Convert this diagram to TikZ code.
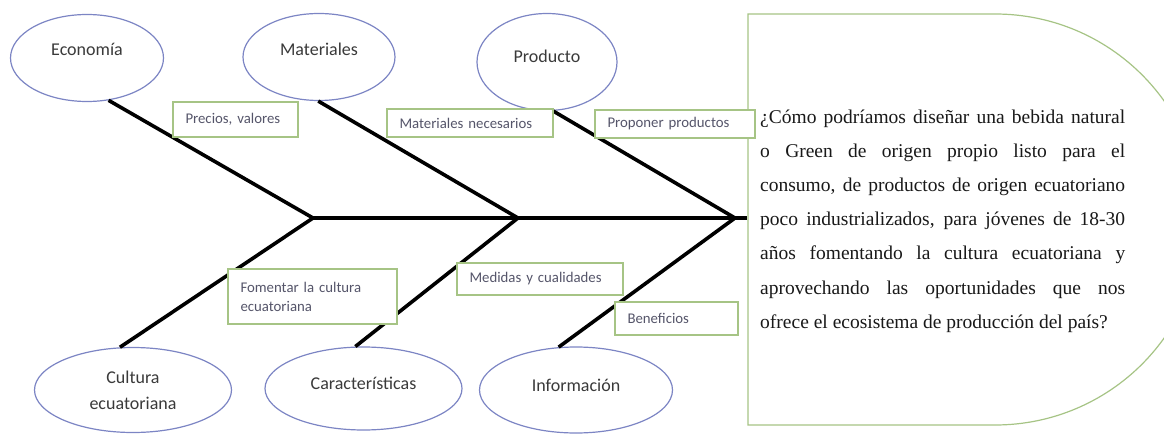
\documentclass[tikz,border=0pt]{standalone}
\usepackage{fontspec}
\setmainfont{Liberation Serif}
\newfontfamily\calibri{Carlito}
\usetikzlibrary{shapes.geometric}
\definecolor{ovalblue}{HTML}{7C85C4}
\definecolor{notegreen}{HTML}{A6C485}
\definecolor{ink}{HTML}{3A3A3A}
\definecolor{notegray}{HTML}{55556A}
\newcommand{\qline}[1]{\makebox[365pt][s]{\spaceskip=0pt\xspaceskip=0pt #1}}
\newcommand{\qlast}[1]{\makebox[365pt][l]{\spaceskip=0pt\xspaceskip=0pt #1}}

\begin{document}
\begin{tikzpicture}[
  x=1pt, y=-1pt,
  cause/.style={ellipse, draw=ovalblue, line width=1.2pt, fill=white, text=ink, align=center, inner sep=0pt, font=\calibri\fontsize{18}{26}\selectfont},
  note/.style={draw=notegreen, line width=1.1pt, fill=white, text=notegray, align=left, inner xsep=12.5pt, inner ysep=0pt, font=\calibri\fontsize{14.8}{19}\selectfont},
  bone/.style={line width=3.6pt, draw=black},
  head/.style={draw=notegreen, line width=1.2pt, fill=white},
]
\useasboundingbox (0,0) rectangle (1164,446);
\clip (0,0) rectangle (1164,446);

\draw[head] (748,14) -- (995,14) arc[start angle=90, end angle=-90, x radius=207pt, y radius=205.5pt] -- (748,425) -- cycle;

\node[anchor=west, inner sep=0pt, text width=365pt, align=left, text=black!90, font=\fontsize{19.5}{34.2}\selectfont] (q) at (760,221)
{\qline{¿Cómo podríamos diseñar una bebida natural}\\
\qline{o Green de origen propio listo para el}\\
\qline{consumo, de productos de origen ecuatoriano}\\
\qline{poco industrializados, para jóvenes de 18-30}\\
\qline{años fomentando la cultura ecuatoriana y}\\
\qline{aprovechando las oportunidades que nos}\\
\qlast{ofrece el ecosistema de producción del país?}};

\node[cause, minimum width=153pt, minimum height=87pt] (econ) at (87,58) {\raisebox{17pt}{Economía}};
\node[cause, minimum width=152pt, minimum height=87pt] (mat) at (319,57) {\raisebox{16pt}{Materiales}};
\node[cause, minimum width=140pt, minimum height=97pt] (prod) at (547,62) {\raisebox{11pt}{Producto}};
\node[cause, minimum width=197pt, minimum height=85pt] (cult) at (133,390) {Cultura\\ecuatoriana};
\node[cause, minimum width=197pt, minimum height=83pt] (carac) at (363.5,388.5) {\raisebox{10pt}{Características}};
\node[cause, minimum width=193pt, minimum height=86pt] (info) at (576,390) {\raisebox{10pt}{Información}};

\coordinate (j1) at (313,218);
\coordinate (j2) at (518,218);
\coordinate (j3) at (735,218);
\coordinate (tip) at (747,218);

\draw[bone] (j1) -- (tip);
\draw[bone] (econ.-63) -- (j1);
\draw[bone] (mat.-91) -- (j2);
\draw[bone] (prod.-83) -- (j3);
\draw[bone] (cult.107) -- (j1);
\draw[bone] (carac.101) -- (j2);
\draw[bone] (info.112) -- (j3);

\node[note, minimum height=35pt, text width=100pt] (prec) at (235.5,119.5) {Precios, valores};
\node[note, minimum height=28pt, text width=141pt] (matn) at (470,123) {Materiales necesarios};
\node[note, minimum height=28pt, text width=135pt] (prop) at (675,124) {Proponer productos};
\node[note, minimum height=55pt, text width=144pt] (foment) at (312.5,296.5) {Fomentar la cultura\\ecuatoriana};
\node[note, minimum height=32pt, text width=141pt] (medid) at (540,279) {Medidas y cualidades};
\node[note, minimum height=33pt, text width=98pt] (benef) at (676.5,318.5) {Beneficios};

\end{tikzpicture}
\end{document}
